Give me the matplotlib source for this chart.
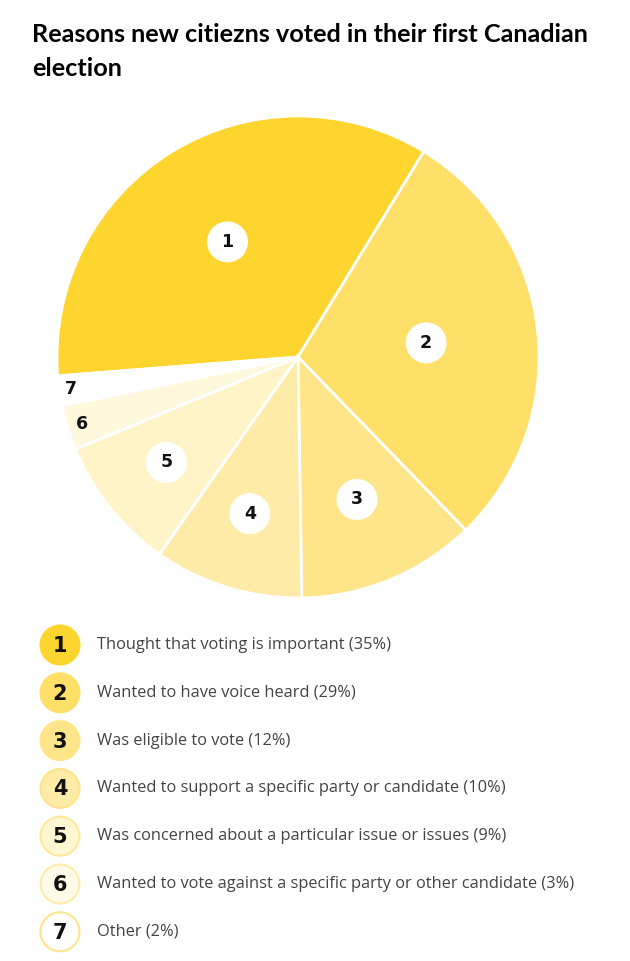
import matplotlib
matplotlib.use("Agg")
import matplotlib.pyplot as plt
from matplotlib.patches import Circle
import numpy as np

# --- data ---
numbers = ["1", "2", "3", "4", "5", "6", "7"]
reasons = [
    "Thought that voting is important",
    "Wanted to have voice heard",
    "Was eligible to vote",
    "Wanted to support a specific party or candidate",
    "Was concerned about a particular issue or issues",
    "Wanted to vote against a specific party or other candidate",
    "Other",
]
shares = [35, 29, 12, 10, 9, 3, 2]

# --- styling ---
slice_colors = ["#FED52E", "#FEDF67", "#FEE58A", "#FEEBA8", "#FEF4C8", "#FFF8DD", "#FFFFFF"]
badge_fill = ["#FED52E", "#FEDF67", "#FEE58A", "#FEEBA8", "#FFF6D2", "#FFFAE8", "#FFFFFF"]
badge_edge = ["#FED52E", "#FEDF67", "#FEE58A", "#FEE48A", "#FEE89A", "#FEEBA8", "#FEE48A"]
label_r = [0.56, 0.535, 0.64, 0.68, 0.70, 0.94, 0.95]
label_circle = [True, True, True, True, True, False, False]

W, H = 630, 961
fig = plt.figure(figsize=(W / 100, H / 100), dpi=100)

# title
fig.text(32 / W, 1 - 23 / H, "Reasons new citiezns voted in their first Canadian\nelection",
         family="Lato", weight="bold", fontsize=18.2, color="black",
         ha="left", va="top", linespacing=1.6)

# pie, centre at (298, 357) px, radius 241 px
cx, cy, R = 298, 357, 241
ax = fig.add_axes([(cx - R) / W, 1 - (cy + R) / H, 2 * R / W, 2 * R / H])
wedges, _ = ax.pie(shares, colors=slice_colors, startangle=184.5, counterclock=False,
                   radius=1, wedgeprops=dict(edgecolor="white", linewidth=2))
ax.set_xlim(-1, 1)
ax.set_ylim(-1, 1)
ax.set_aspect("equal")
ax.axis("off")

for w, num, r, circ in zip(wedges, numbers, label_r, label_circle):
    mid = np.deg2rad((w.theta1 + w.theta2) / 2)
    x, y = r * np.cos(mid), r * np.sin(mid)
    if circ:
        ax.add_patch(Circle((x, y), 0.085, facecolor="white", edgecolor="none", zorder=3))
    ax.text(x, y, num, ha="center", va="center", fontsize=12.5, weight="heavy",
            family="DejaVu Sans", color="#111111", zorder=4)

# legend drawn in pixel coordinates
lax = fig.add_axes([0, 0, 1, 1])
lax.set_xlim(0, W)
lax.set_ylim(H, 0)
lax.axis("off")
row0, step = 645, 47.8
for i, (num, reason, pct) in enumerate(zip(numbers, reasons, shares)):
    y = row0 + i * step
    lax.add_patch(Circle((60, y), 19.5, facecolor=badge_fill[i], edgecolor=badge_edge[i],
                         linewidth=1.5))
    lax.text(60, y + 1, num, ha="center", va="center", fontsize=15, weight="heavy",
             family="DejaVu Sans", color="#111111")
    lax.text(97, y, f"{reason} ({pct}%)", ha="left", va="center", fontsize=11.8,
             family="Open Sans", color="#444444")

fig.savefig("out.png", dpi=100)
